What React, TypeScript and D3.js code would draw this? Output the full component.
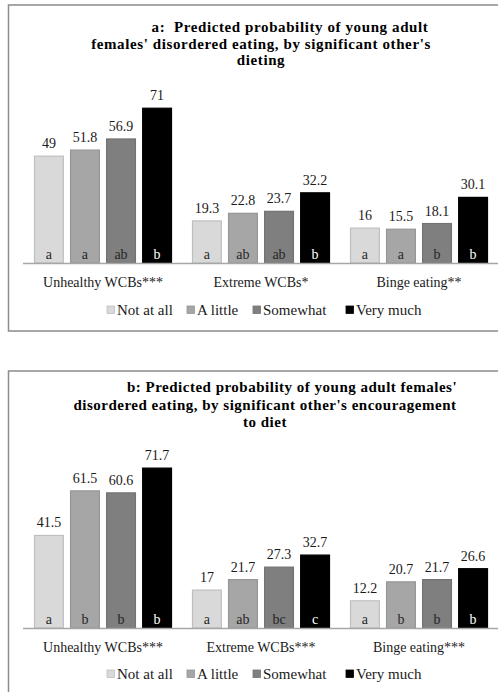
import React, { useEffect, useRef } from "react";
import { select, scaleBand, scaleLinear } from "d3";

const categories = ["Unhealthy WCBs***", "Extreme WCBs*", "Binge eating**"];
const categoriesB = ["Unhealthy WCBs***", "Extreme WCBs***", "Binge eating***"];
const series = ["Not at all", "A little", "Somewhat", "Very much"];
const colors = ["#d9d9d9", "#a6a6a6", "#7f7f7f", "#000000"];
const strokes = ["#bfbfbf", "#969696", "#737373", "#000000"];

// values per category, in series order
const valuesA = [
  [49, 51.8, 56.9, 71],
  [19.3, 22.8, 23.7, 32.2],
  [16, 15.5, 18.1, 30.1],
];
const lettersA = [
  ["a", "a", "ab", "b"],
  ["a", "ab", "ab", "b"],
  ["a", "a", "b", "b"],
];
const valuesB = [
  [41.5, 61.5, 60.6, 71.7],
  [17, 21.7, 27.3, 32.7],
  [12.2, 20.7, 21.7, 26.6],
];
const lettersB = [
  ["a", "b", "b", "b"],
  ["a", "ab", "bc", "c"],
  ["a", "b", "b", "b"],
];
const titleA = [
  "a:  Predicted probability of young adult",
  "females' disordered eating, by significant other's",
  "dieting",
];
const titleB = [
  "b: Predicted probability of young adult females'",
  "disordered eating, by significant other's encouragement",
  "to diet",
];

const W = 498;
const H = 692;
const FONT = "'Liberation Serif', 'Times New Roman', serif";

type Panel = {
  top: number;
  bottom: number;
  base: number;
  pxPerUnit: number;
  cats: string[];
  values: number[][];
  letters: string[][];
  title: string[];
  titleX: number[];
  titleY: number[];
  spacing: number;
  catY: number;
  legendY: number;
};

const panels: Panel[] = [
  {
    top: 5,
    bottom: 331,
    base: 263,
    pxPerUnit: 2.18,
    cats: categories,
    values: valuesA,
    letters: lettersA,
    title: titleA,
    titleX: [290, 261, 261],
    titleY: [27, 43.5, 60],
    spacing: 0.6,
    catY: 282,
    legendY: 310,
  },
  {
    top: 371,
    bottom: 700,
    base: 628,
    pxPerUnit: 2.23,
    cats: categoriesB,
    values: valuesB,
    letters: lettersB,
    title: titleB,
    titleX: [292, 265, 265],
    titleY: [387, 405, 422],
    spacing: 0.5,
    catY: 647,
    legendY: 674,
  },
];

const legendX = [107, 187, 253, 346];

const App: React.FC = () => {
  const svgRef = useRef<SVGSVGElement>(null);

  useEffect(() => {
    const svg = select(svgRef.current);
    svg.selectAll("*").remove();
    svg.append("rect").attr("width", W).attr("height", H).attr("fill", "white");

    panels.forEach((p) => {
      const g = svg.append("g");
      // panel frame (right side cut off)
      g.append("path")
        .attr("d", `M${W + 2},${p.top}H8.5V${p.bottom}H${W + 2}`)
        .attr("fill", "none")
        .attr("stroke", "#8c8c8c")
        .attr("stroke-width", 1.5);

      g.selectAll(".title")
        .data(p.title)
        .join("text")
        .attr("x", (_, i) => p.titleX[i])
        .attr("y", (_, i) => p.titleY[i])
        .attr("dy", "0.35em")
        .attr("text-anchor", "middle")
        .style("font-family", FONT)
        .style("font-weight", "bold")
        .style("font-size", "15px")
        .style("letter-spacing", `${p.spacing}px`)
        .style("white-space", "pre")
        .text((d) => d);

      const x0 = scaleBand().domain(p.cats).range([23.5, 497.5]);
      const x1 = scaleBand()
        .domain(series)
        .range([11, 148])
        .paddingInner(0.2)
        .paddingOuter(0);
      const y = scaleLinear()
        .domain([0, 80])
        .range([p.base, p.base - 80 * p.pxPerUnit]);

      const groups = g
        .selectAll(".grp")
        .data(p.cats)
        .join("g")
        .attr("transform", (c) => `translate(${x0(c)},0)`);

      groups.each(function (c, ci) {
        const gg = select(this);
        const rows = series.map((s, si) => ({
          s,
          si,
          v: p.values[ci][si],
          l: p.letters[ci][si],
        }));
        gg.selectAll("rect")
          .data(rows)
          .join("rect")
          .attr("x", (d) => x1(d.s) as number)
          .attr("y", (d) => y(d.v))
          .attr("width", x1.bandwidth())
          .attr("height", (d) => y(0) - y(d.v))
          .attr("fill", (d) => colors[d.si])
          .attr("stroke", (d) => strokes[d.si])
          .attr("stroke-width", 1.2);
        gg.selectAll(".val")
          .data(rows)
          .join("text")
          .attr("x", (d) => (x1(d.s) as number) + x1.bandwidth() / 2)
          .attr("y", (d) => y(d.v) - 8)
          .attr("text-anchor", "middle")
          .style("font-family", FONT)
          .style("font-size", "14px")
          .attr("fill", "#1a1a1a")
          .text((d) => String(d.v));
        gg.selectAll(".let")
          .data(rows)
          .join("text")
          .attr("x", (d) => (x1(d.s) as number) + x1.bandwidth() / 2)
          .attr("y", y(0) - 4)
          .attr("text-anchor", "middle")
          .style("font-family", FONT)
          .style("font-size", "14px")
          .attr("fill", (d) => (d.si === 3 ? "#ffffff" : "#262626"))
          .text((d) => d.l);
      });

      // axis line
      g.append("line")
        .attr("x1", 23)
        .attr("x2", W)
        .attr("y1", y(0) + 0.5)
        .attr("y2", y(0) + 0.5)
        .attr("stroke", "#a6a6a6")
        .attr("stroke-width", 1.5);

      g.selectAll(".cat")
        .data(p.cats)
        .join("text")
        .attr("x", (c) => (x0(c) as number) + 79.5)
        .attr("y", p.catY)
        .attr("dy", "0.35em")
        .attr("text-anchor", "middle")
        .style("font-family", FONT)
        .style("font-size", "14px")
        .attr("fill", "#1a1a1a")
        .text((c) => c);

      const leg = g
        .selectAll(".leg")
        .data(series)
        .join("g")
        .attr("transform", (_, i) => `translate(${legendX[i]},${p.legendY})`);
      leg
        .append("rect")
        .attr("x", 0)
        .attr("y", -4)
        .attr("width", 7.5)
        .attr("height", 7.5)
        .attr("fill", (_, i) => colors[i])
        .attr("stroke", (_, i) => strokes[i])
        .attr("stroke-width", 0.8);
      leg
        .append("text")
        .attr("x", 10)
        .attr("y", 0)
        .attr("dy", "0.35em")
        .style("font-family", FONT)
        .style("font-size", "15px")
        .attr("fill", "#1a1a1a")
        .text((d) => d);
    });
  }, []);

  return (
    <svg
      ref={svgRef}
      width={W}
      height={H}
      style={{ position: "absolute", left: 0, top: 0 }}
    />
  );
};

export default App;
